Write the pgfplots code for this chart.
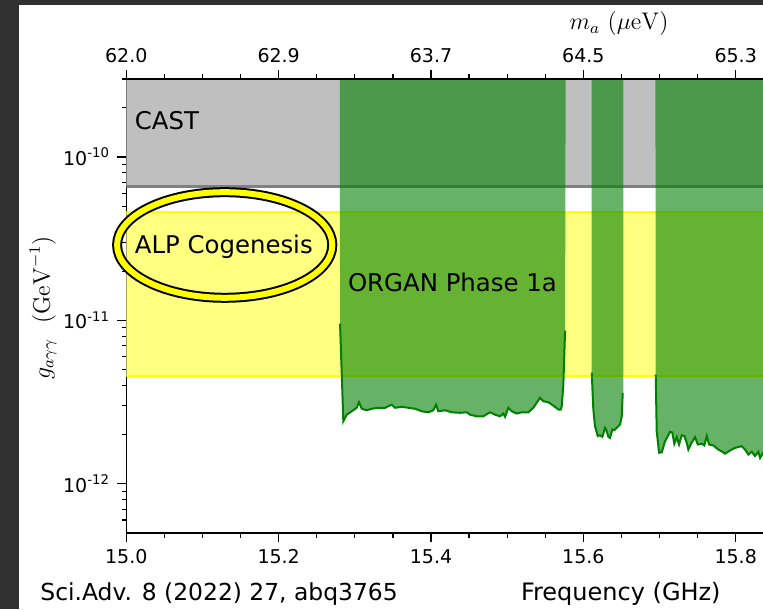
\documentclass[border=0pt]{standalone}
\usepackage{pgfplots}
\pgfplotsset{compat=1.18}
\usepackage[no-math]{fontspec}
\setmainfont{DejaVu Sans}

\definecolor{mplgreen}{RGB}{0,128,0}
\definecolor{castgray}{RGB}{191,191,191}
\definecolor{castline}{RGB}{128,128,128}
\definecolor{alpfill}{RGB}{255,255,128}
\definecolor{alpline}{RGB}{255,255,0}
\definecolor{slidebg}{RGB}{48,48,48}

\pgfplotsset{
  organ/.style={
    at={(63.15pt,38pt)}, anchor=south west,
    scale only axis, width=342.8pt, height=227pt,
    xmin=15, xmax=15.9,
    xtick={15,15.2,15.4,15.6,15.8}, minor x tick num=3,
    tick align=outside, major tick length=4.6pt, minor tick length=2.3pt,
    every tick/.style={black, line width=0.6pt},
    axis line style={line width=0.65pt},
    ticklabel style={font=\fontsize{9.5}{11}\selectfont},
  },
}

\begin{document}
\begin{tikzpicture}
\useasboundingbox (0,0) rectangle (381.5pt,304.5pt);
\fill[slidebg] (0,0) rectangle (381.5pt,304.5pt);
\fill[white] (9.5pt,0) rectangle (381.5pt,302pt);
\clip (0,0) rectangle (381.5pt,304.5pt);

\begin{axis}[organ, ymode=log, ymin=5e-13, ymax=3e-10, tick pos=left,
  xticklabels={15.0,15.2,15.4,15.6,15.8},
  ytick={1e-12,1e-11,1e-10},
  yticklabels={10\textsuperscript{-12},10\textsuperscript{-11},10\textsuperscript{-10}},
  minor ytick={6e-13,7e-13,8e-13,9e-13,2e-12,3e-12,4e-12,5e-12,6e-12,7e-12,8e-12,9e-12,
    2e-11,3e-11,4e-11,5e-11,6e-11,7e-11,8e-11,9e-11,2e-10,3e-10}]

% ALP cogenesis band
\addplot[fill=alpfill, draw=none] coordinates {(14.9,4.6e-12) (16,4.6e-12) (16,4.6e-11) (14.9,4.6e-11)};
\addplot[alpline, line width=1pt] coordinates {(14.9,4.6e-11) (16,4.6e-11)};
\addplot[alpline, line width=1pt] coordinates {(14.9,4.6e-12) (16,4.6e-12)};

% CAST
\addplot[fill=castgray, draw=none] coordinates {(14.9,6.6e-11) (16,6.6e-11) (16,1e-9) (14.9,1e-9)};
\addplot[castline, line width=1.1pt] coordinates {(14.9,6.6e-11) (16,6.6e-11)};

% ORGAN phase 1a, three scans
\addplot[fill=mplgreen, fill opacity=0.6, draw=none] coordinates {
(15.2802,1e-9) (15.2806,9.55e-12) (15.2849,2.42e-12) (15.2894,2.65e-12) (15.2959,2.78e-12)
(15.3025,2.92e-12) (15.3055,3.16e-12) (15.3090,2.88e-12) (15.3156,2.82e-12) (15.3222,2.88e-12)
(15.3308,2.92e-12) (15.3396,2.92e-12) (15.3484,3.05e-12) (15.3528,2.92e-12) (15.3616,2.96e-12)
(15.3702,2.92e-12) (15.3790,2.88e-12) (15.3878,2.78e-12) (15.3965,2.74e-12) (15.4030,2.82e-12)
(15.4066,3.05e-12) (15.4096,2.78e-12) (15.4184,2.82e-12) (15.4272,2.74e-12) (15.4381,2.72e-12)
(15.4469,2.74e-12) (15.4512,2.65e-12) (15.4600,2.59e-12) (15.4687,2.59e-12) (15.4775,2.74e-12)
(15.4840,2.65e-12) (15.4906,2.59e-12) (15.4949,2.69e-12) (15.4972,2.57e-12) (15.5015,2.92e-12)
(15.5060,2.78e-12) (15.5125,2.69e-12) (15.5191,2.74e-12) (15.5278,2.74e-12) (15.5343,2.92e-12)
(15.5431,3.36e-12) (15.5475,3.20e-12) (15.5540,3.16e-12) (15.5606,3.01e-12) (15.5672,2.85e-12)
(15.5703,2.85e-12) (15.5716,2.98e-12) (15.5737,4.0e-12) (15.5760,8.65e-12) (15.5770,1e-9)};
\addplot[fill=mplgreen, fill opacity=0.6, draw=none] coordinates {
(15.6108,1e-9) (15.6110,4.79e-12) (15.6131,2.85e-12) (15.6153,2.25e-12) (15.6189,1.96e-12)
(15.6219,1.98e-12) (15.6249,1.94e-12) (15.6285,2.20e-12) (15.6307,2.10e-12) (15.6328,1.94e-12)
(15.6350,1.91e-12) (15.6381,2.15e-12) (15.6407,2.13e-12) (15.6438,2.20e-12) (15.6482,2.31e-12)
(15.6504,2.59e-12) (15.6517,3.60e-12) (15.6525,3.60e-12) (15.6525,1e-9)};
\addplot[fill=mplgreen, fill opacity=0.6, draw=none] coordinates {
(15.6945,1e-9) (15.6950,4.66e-12) (15.6963,2.10e-12) (15.6994,1.55e-12) (15.7029,1.56e-12)
(15.7072,1.82e-12) (15.7138,2.08e-12) (15.7168,2.06e-12) (15.7194,1.76e-12) (15.7226,1.93e-12)
(15.7256,1.74e-12) (15.7292,1.98e-12) (15.7326,1.96e-12) (15.7357,1.78e-12) (15.7378,1.62e-12)
(15.7414,1.76e-12) (15.7466,1.93e-12) (15.7502,1.74e-12) (15.7554,1.76e-12) (15.7588,1.72e-12)
(15.7620,1.96e-12) (15.7650,1.74e-12) (15.7706,1.72e-12) (15.7772,1.62e-12) (15.7825,1.57e-12)
(15.7860,1.53e-12) (15.7926,1.60e-12) (15.7991,1.66e-12) (15.8079,1.70e-12) (15.8123,1.62e-12)
(15.8166,1.51e-12) (15.8211,1.57e-12) (15.8254,1.48e-12) (15.8297,1.57e-12) (15.8320,1.44e-12)
(15.8359,1.55e-12) (15.8450,1.50e-12) (15.8600,1.47e-12) (15.9500,1.47e-12) (15.9500,1e-9)};

\addplot[mplgreen, line width=1pt] coordinates {
(15.2806,9.55e-12) (15.2849,2.42e-12) (15.2894,2.65e-12) (15.2959,2.78e-12)
(15.3025,2.92e-12) (15.3055,3.16e-12) (15.3090,2.88e-12) (15.3156,2.82e-12) (15.3222,2.88e-12)
(15.3308,2.92e-12) (15.3396,2.92e-12) (15.3484,3.05e-12) (15.3528,2.92e-12) (15.3616,2.96e-12)
(15.3702,2.92e-12) (15.3790,2.88e-12) (15.3878,2.78e-12) (15.3965,2.74e-12) (15.4030,2.82e-12)
(15.4066,3.05e-12) (15.4096,2.78e-12) (15.4184,2.82e-12) (15.4272,2.74e-12) (15.4381,2.72e-12)
(15.4469,2.74e-12) (15.4512,2.65e-12) (15.4600,2.59e-12) (15.4687,2.59e-12) (15.4775,2.74e-12)
(15.4840,2.65e-12) (15.4906,2.59e-12) (15.4949,2.69e-12) (15.4972,2.57e-12) (15.5015,2.92e-12)
(15.5060,2.78e-12) (15.5125,2.69e-12) (15.5191,2.74e-12) (15.5278,2.74e-12) (15.5343,2.92e-12)
(15.5431,3.36e-12) (15.5475,3.20e-12) (15.5540,3.16e-12) (15.5606,3.01e-12) (15.5672,2.85e-12)
(15.5703,2.85e-12) (15.5716,2.98e-12) (15.5737,4.0e-12) (15.5760,8.65e-12)};
\addplot[mplgreen, line width=1pt] coordinates {
(15.6110,4.79e-12) (15.6131,2.85e-12) (15.6153,2.25e-12) (15.6189,1.96e-12)
(15.6219,1.98e-12) (15.6249,1.94e-12) (15.6285,2.20e-12) (15.6307,2.10e-12) (15.6328,1.94e-12)
(15.6350,1.91e-12) (15.6381,2.15e-12) (15.6407,2.13e-12) (15.6438,2.20e-12) (15.6482,2.31e-12)
(15.6504,2.59e-12) (15.6517,3.60e-12)};
\addplot[mplgreen, line width=1pt] coordinates {
(15.6950,4.66e-12) (15.6963,2.10e-12) (15.6994,1.55e-12) (15.7029,1.56e-12)
(15.7072,1.82e-12) (15.7138,2.08e-12) (15.7168,2.06e-12) (15.7194,1.76e-12) (15.7226,1.93e-12)
(15.7256,1.74e-12) (15.7292,1.98e-12) (15.7326,1.96e-12) (15.7357,1.78e-12) (15.7378,1.62e-12)
(15.7414,1.76e-12) (15.7466,1.93e-12) (15.7502,1.74e-12) (15.7554,1.76e-12) (15.7588,1.72e-12)
(15.7620,1.96e-12) (15.7650,1.74e-12) (15.7706,1.72e-12) (15.7772,1.62e-12) (15.7825,1.57e-12)
(15.7860,1.53e-12) (15.7926,1.60e-12) (15.7991,1.66e-12) (15.8079,1.70e-12) (15.8123,1.62e-12)
(15.8166,1.51e-12) (15.8211,1.57e-12) (15.8254,1.48e-12) (15.8297,1.57e-12) (15.8320,1.44e-12)
(15.8359,1.55e-12) (15.8450,1.50e-12) (15.8600,1.47e-12)};
\end{axis}

% top axis: axion mass
\begin{axis}[organ, ymin=0, ymax=1, hide y axis, axis x line*=top,
  xticklabels={62.0,62.9,63.7,64.5,65.3}]
\end{axis}

% labels and annotations
\node[anchor=base west, inner sep=0, font=\fontsize{12.2}{14}\selectfont] at (67.2pt,239.8pt) {CAST};
\node[anchor=base west, inner sep=0, font=\fontsize{12.2}{14}\selectfont] at (173.8pt,158.65pt) {ORGAN Phase 1a};
\draw[black, line width=5pt] (112.35pt,182pt) ellipse [x radius=53.8pt, y radius=26.4pt];
\draw[alpline, line width=3pt] (112.35pt,182pt) ellipse [x radius=53.8pt, y radius=26.4pt];
\node[anchor=base, inner sep=0, font=\fontsize{12.2}{14}\selectfont] at (111.9pt,177.5pt) {ALP Cogenesis};

\node[anchor=base, inner sep=0, font=\fontsize{12}{14}\selectfont] at (310.4pt,4.15pt) {Frequency (GHz)};
\node[anchor=base west, inner sep=0, font=\fontsize{11.7}{14}\selectfont] at (20pt,4.15pt) {Sci.Adv. 8 (2022) 27, abq3765};
\node[font=\fontsize{12}{14}\selectfont] at (309.5pt,292.5pt) {$m_a\ (\mu\mathrm{eV})$};
\node[rotate=90, font=\fontsize{12}{14}\selectfont] at (21.5pt,150.5pt) {$g_{a\gamma\gamma}\ \ (\mathrm{GeV}^{-1})$};
\end{tikzpicture}
\end{document}
